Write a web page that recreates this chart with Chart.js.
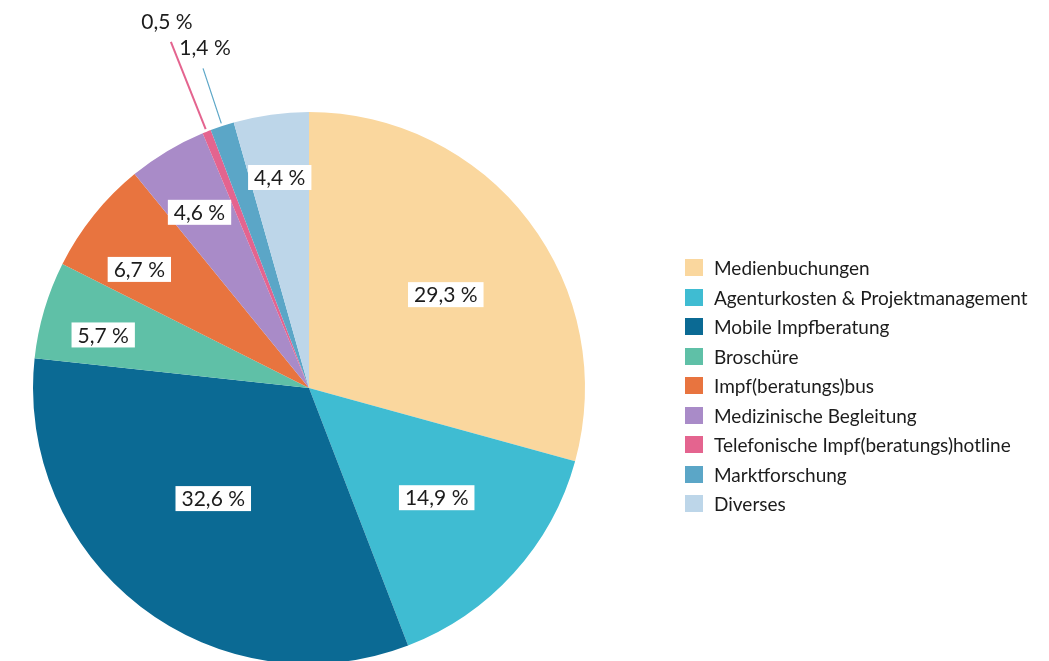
<!DOCTYPE html>
<html>
<head>
<meta charset="utf-8" />
<title>Kostenverteilung</title>
<script src="https://cdn.jsdelivr.net/npm/chart.js@4"></script>
<style>
    html, body { margin: 0; padding: 0; background: #fff; overflow: hidden; }
    #wrap { position: absolute; left: 0; top: 0; width: 1049px; height: 680px; }
    #legend { position: absolute; left: 685px; top: 253px; font-family: Lato, "Noto Sans", sans-serif; font-size: 19px; color: #1c1c1c; }
    #legend div { height: 29.5px; display: flex; align-items: center; }
    #legend span.sw { display: inline-block; width: 18px; height: 17px; margin-right: 11px; }
</style>
</head>
<body>
<div id="wrap"><canvas id="pie"></canvas></div>
<div id="legend"></div>

<script>
    // categories and shares (percent)
    const labels = ['Medienbuchungen', 'Agenturkosten & Projektmanagement', 'Mobile Impfberatung', 'Broschüre',
        'Impf(beratungs)bus', 'Medizinische Begleitung', 'Telefonische Impf(beratungs)hotline', 'Marktforschung', 'Diverses'];
    const shares = [29.3, 14.9, 32.6, 5.7, 6.7, 4.6, 0.5, 1.4, 4.4];
    const colors = ['#fad79e', '#3fbcd2', '#0b6a94', '#5fc0a7', '#e8743f', '#a98bc8', '#e4648f', '#5ba6c7', '#bdd6e9'];

    // label placement per slice: radius fraction and angle nudge (deg)
    const labelRadius = [0.60, 0.61, 0.53, 0.77, 0.75, 0.75, 1.35, 1.22, 0.77];
    const labelNudge = [3, -1.5, 3.3, -2, -3.8, -1, 0, 0, 0];

    const fmt = v => v.toFixed(1).replace('.', ',') + ' %';

    // percent labels: white boxes inside, leader lines for the tiny slices
    const sliceLabels = {
        id: 'sliceLabels',
        afterDatasetsDraw(chart) {
            const ctx = chart.ctx;
            const meta = chart.getDatasetMeta(0);
            ctx.save();
            ctx.font = '21px Lato, "Noto Sans", sans-serif';
            ctx.textAlign = 'center';
            ctx.textBaseline = 'middle';
            meta.data.forEach((arc, i) => {
                const v = shares[i];
                const mid = (arc.startAngle + arc.endAngle) / 2 + labelNudge[i] * Math.PI / 180;
                const r = arc.outerRadius;
                const cx = arc.x, cy = arc.y;
                const txt = fmt(v);
                if (v < 2) {
                    const r0 = r * 1.01, r1 = r * labelRadius[i];
                    ctx.strokeStyle = colors[i];
                    ctx.lineWidth = v < 1 ? 2 : 1.2;
                    ctx.beginPath();
                    ctx.moveTo(cx + Math.cos(mid) * r0, cy + Math.sin(mid) * r0);
                    const ex = cx + Math.cos(mid) * r1, ey = cy + Math.sin(mid) * r1;
                    ctx.lineTo(ex, ey);
                    ctx.stroke();
                    ctx.fillStyle = '#1c1c1c';
                    ctx.fillText(txt, ex - (v < 1 ? 4 : -2), ey - 20);
                    return;
                }
                const f = labelRadius[i];
                const x = cx + Math.cos(mid) * r * f, y = cy + Math.sin(mid) * r * f;
                const w = ctx.measureText(txt).width + 12;
                ctx.fillStyle = '#fff';
                ctx.fillRect(x - w / 2, y - 12.5, w, 25);
                ctx.fillStyle = '#1c1c1c';
                ctx.fillText(txt, x, y + 1);
            });
            ctx.restore();
        }
    };

    new Chart(document.getElementById('pie'), {
        type: 'pie',
        data: {
            labels: labels,
            datasets: [{ data: shares, backgroundColor: colors, borderWidth: 0 }]
        },
        options: {
            responsive: true,
            maintainAspectRatio: false,
            animation: false,
            layout: { padding: { left: 33, top: 112, right: 464, bottom: 16 } },
            plugins: { legend: { display: false }, tooltip: { enabled: false } }
        },
        plugins: [sliceLabels]
    });

    // legend list on the right
    document.getElementById('legend').innerHTML = labels.map((l, i) =>
        `<div><span class="sw" style="background:${colors[i]}"></span>${l}</div>`).join('');
</script>
</body>
</html>
